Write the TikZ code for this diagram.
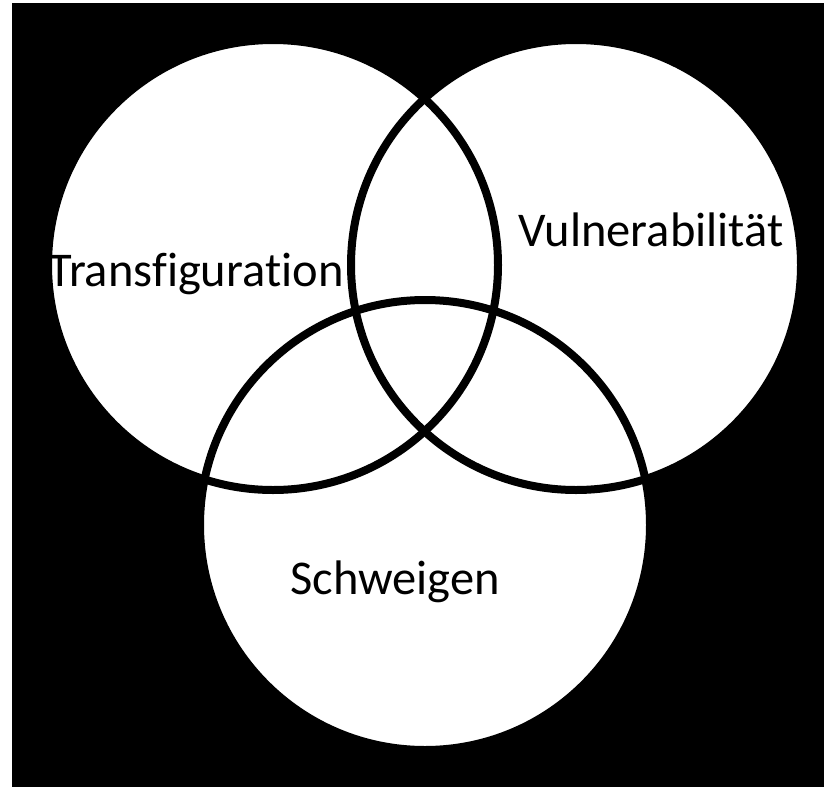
\documentclass[tikz,border=0pt]{standalone}
\usepackage{fontspec}
\setmainfont[Ligatures=NoCommon]{Carlito}
\usepackage{tikz}
\usetikzlibrary{positioning}
\tikzset{
    setdisc/.style={
        circle,
        fill=white,
        inner sep=0pt,
        minimum size=450pt
    },
    setring/.style={
        draw=black,
        line width=8pt
    },
    setlabel/.style={
        font=\fontsize{48.5}{58}\selectfont,
        inner sep=0pt,
        anchor=base
    }
}

\begin{document}
\begin{tikzpicture}[x=1pt, y=-1pt]

% ---------------------------------------------------------
% Frame
% ---------------------------------------------------------
\useasboundingbox (0,0) rectangle (824,787);
\fill[white] (0,0) rectangle (824,787);
\fill[black] (12,3) rectangle (824,787);

% ---------------------------------------------------------
% Sets
% ---------------------------------------------------------

% Left: Transfiguration
\node[setdisc] (transfig) at (273,265) {};

% Right: Vulnerabilitaet
\node[setdisc] (vulner) at (576,265) {};

% Bottom: Schweigen
\node[setdisc] (schweig) at (425,525) {};

% Outlines on top of all fills
\foreach \s in {transfig, vulner, schweig}
    \draw[setring] (\s.center) circle[radius=225pt];

% ---------------------------------------------------------
% Labels
% ---------------------------------------------------------
\node[setlabel] (transfiglabel) at (196,286) {Transfiguration};
\node[setlabel] (vulnerlabel) at (651,246) {Vulnerabilität};
\node[setlabel] (schweiglabel) at (395,594) {Schweigen};

\end{tikzpicture}
\end{document}
